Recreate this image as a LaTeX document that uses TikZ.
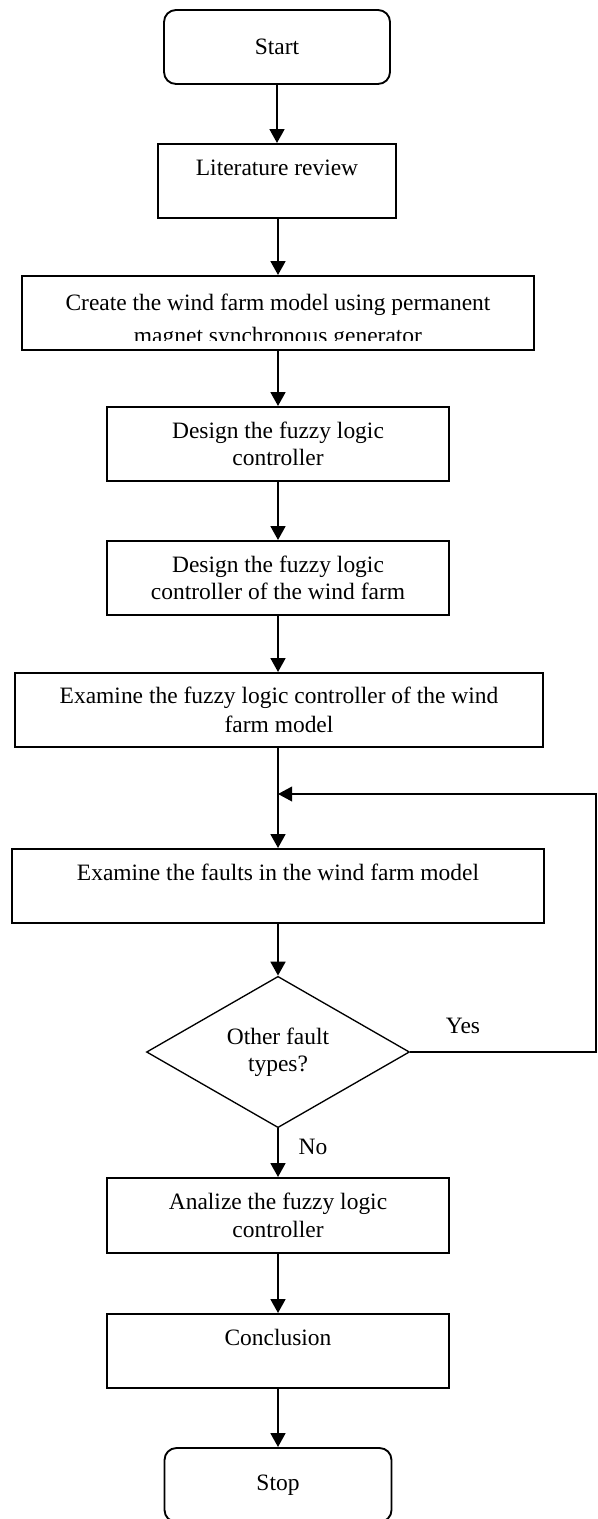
\documentclass[tikz,border=0pt]{standalone}
\usepackage{fontspec}
\setmainfont{Liberation Serif}
\usetikzlibrary{shapes.geometric,arrows.meta}

\begin{document}
\begin{tikzpicture}[x=0.75pt,y=-0.75pt,
    font=\fontsize{17.6}{20.6}\selectfont,
    box/.style={draw,line width=1.4pt,minimum height=55.5pt,align=center,inner sep=0pt},
    term/.style={box,rounded corners=9pt},
    flow/.style={line width=2pt,-{Triangle[length=10.5pt,width=11pt]}},
    back/.style={line width=1.1pt,-{Triangle[length=10.5pt,width=11pt]}}]
    \useasboundingbox (0,0) rectangle (598,1519);

    \node[term,minimum width=169.5pt] (start) at (277,47) {Start};
    \node[box,minimum width=178.5pt] (lit) at (277,181) {Literature review\\~};

    % second line of this box runs under its lower edge
    \begin{scope}
      \clip (22,276) rectangle (534,340);
      \node[align=center,inner sep=0pt] (createtxt) at (278,321)
        {Create the wind farm model using permanent\\[4.2pt]magnet synchronous generator};
    \end{scope}
    \node[box,minimum width=384pt] (create) at (278,313) {};

    \node[box,minimum width=256.5pt] (design) at (278,444) {Design the fuzzy logic\\controller};
    \node[box,minimum width=256.5pt] (designwf) at (278,578) {Design the fuzzy logic\\controller of the wind farm};
    \node[box,minimum width=396pt] (exflc) at (279,710) {Examine the fuzzy logic controller of the wind\\[1pt]farm model};
    \node[box,minimum width=399pt] (exfault) at (278,886) {Examine the faults in the wind farm model\\~};
    \node[draw,diamond,line width=1pt,minimum width=197.25pt,minimum height=109.5pt,
      inner sep=0pt,align=center] (ask) at (278,1052) {Other fault\\types?};
    \node[box,minimum width=256.5pt,minimum height=56.25pt] (analize) at (278,1215.5) {Analize the fuzzy logic\\controller};
    \node[box,minimum width=256.5pt] (concl) at (278,1351) {Conclusion\\~};
    \node[term,minimum width=170.25pt] (stop) at (278,1485) {Stop};

    \node (yes) at (463,1026) {Yes};
    \node (no) at (313,1147) {No};

    \coordinate (merge) at (278,794);
    \coordinate (corner) at (596,794);

    \draw[flow] (start) -- (lit);
    \draw[flow] (lit.south -| create.north) -- (create.north);
    \draw[flow] (create.south) -- (design.north);
    \draw[flow] (design.south) -- (designwf.north);
    \draw[flow] (designwf.south) -- (designwf.south |- exflc.north);
    \draw[flow] (designwf.south |- exflc.south) -- (exfault.north);
    \draw[flow] (exfault.south) -- (ask.north);
    \draw[flow] (ask.south) -- (analize.north);
    \draw[flow] (analize.south) -- (concl.north);
    \draw[flow] (concl.south) -- (stop.north);
    \draw[back] (ask.east) -| (corner) -- (merge);
  \end{tikzpicture}
\end{document}
